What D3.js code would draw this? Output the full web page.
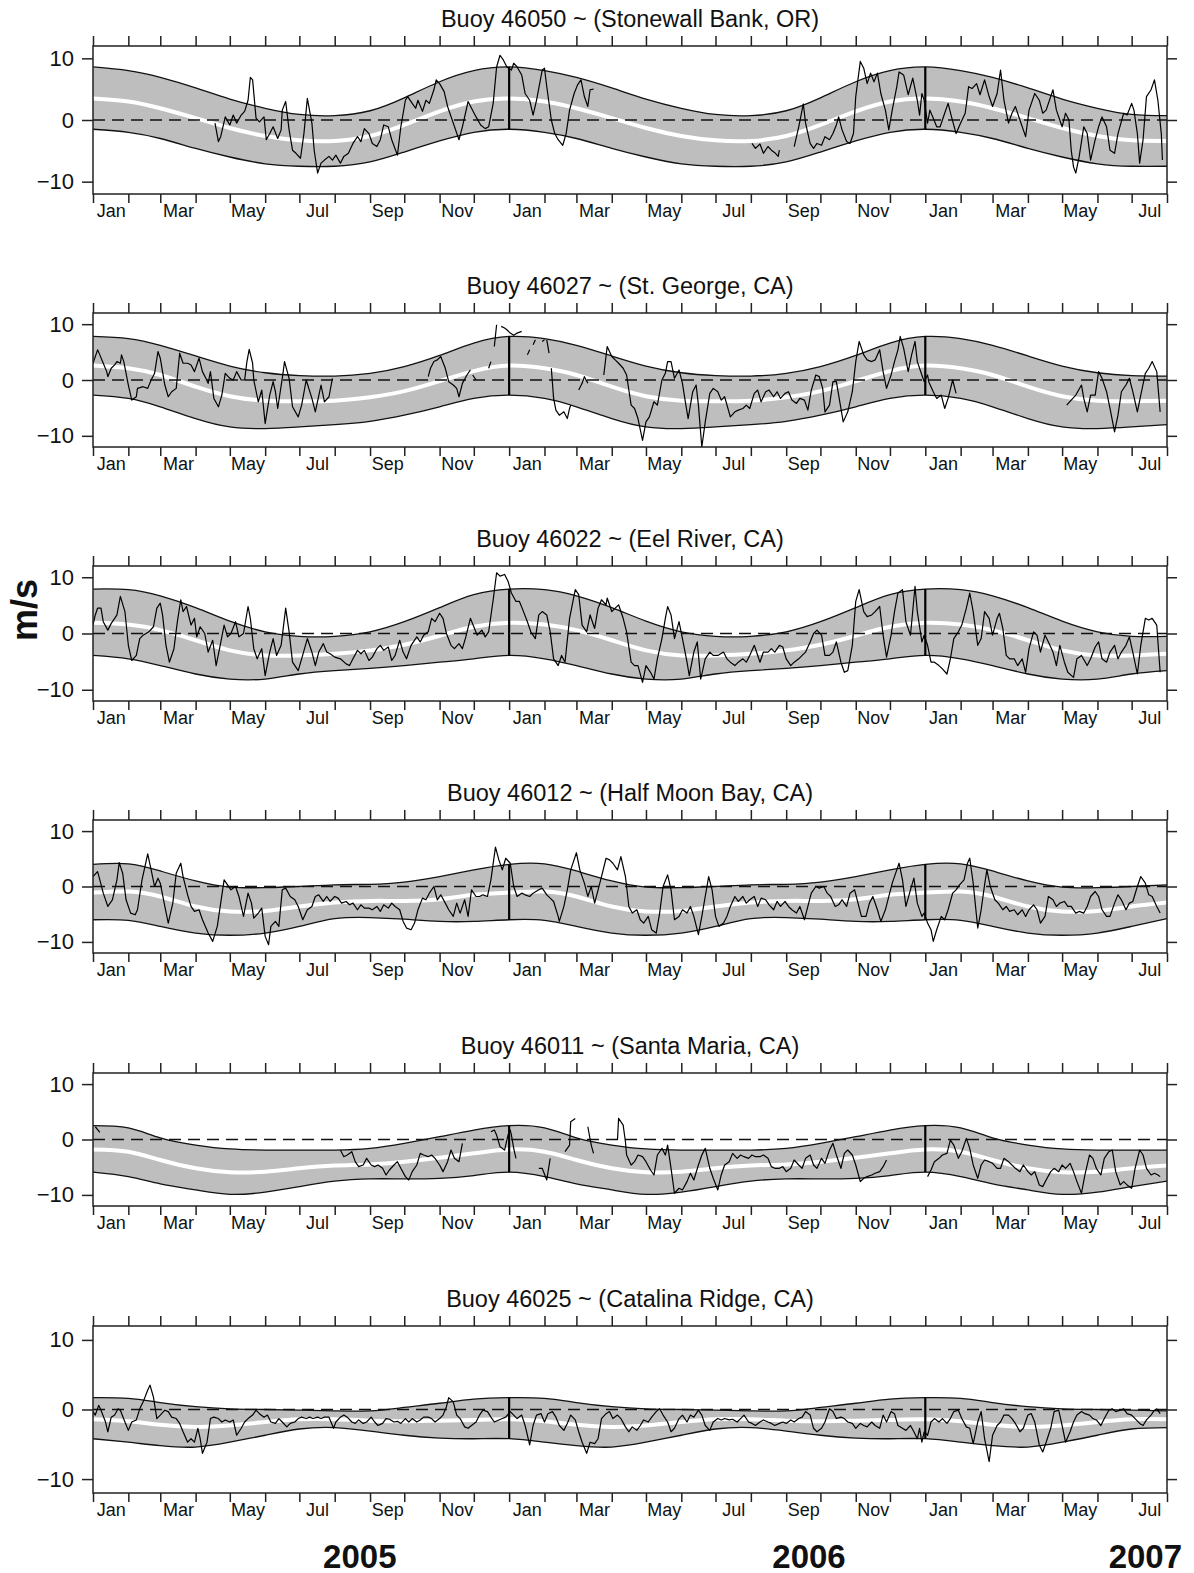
<!DOCTYPE html>
<html>
<head>
<meta charset="UTF-8">
<title>Buoy along-shore wind</title>
<script src="https://d3js.org/d3.v7.min.js"></script>
<style>
  body { margin: 0; background: #fff; }
  text { font-family: "Liberation Sans", Arial, Helvetica, sans-serif; fill: #111; }
</style>
</head>
<body>
<script>
// ---------- data ----------
// time span of every panel
const startDate = new Date(Date.UTC(2005, 0, 1));
const endDate = new Date(Date.UTC(2007, 7, 1));

const buoyIds = ["46050", "46027", "46022", "46012", "46011", "46025"];
const buoyPlaces = ["Stonewall Bank, OR", "St. George, CA", "Eel River, CA",
                    "Half Moon Bay, CA", "Santa Maria, CA", "Catalina Ridge, CA"];
const yTicks = [-10, 0, 10];
const yearLabels = ["2005", "2006", "2007"];

// seasonal cycle, value at the 1st of each month Jan..Dec (upper edge, mean, lower edge)
const upper46050 = [8.6, 8.0, 6.9, 5.2, 3.4, 1.9, 0.9, 0.7, 1.5, 3.6, 6.2, 8.0];
const mean46050  = [3.5, 3.0, 1.9, 0.3, -1.3, -2.6, -3.3, -3.4, -2.6, -0.8, 1.4, 3.0];
const lower46050 = [-1.5, -2.0, -3.0, -4.6, -6.0, -7.1, -7.5, -7.5, -6.8, -5.2, -3.4, -2.0];

const upper46027 = [7.8, 7.4, 6.2, 4.3, 2.5, 1.3, 0.8, 0.7, 1.2, 2.4, 4.4, 6.6];
const mean46027  = [2.6, 2.1, 0.9, -1.2, -2.9, -3.7, -3.8, -3.7, -3.1, -2.0, -0.2, 1.6];
const lower46027 = [-2.7, -3.3, -4.8, -6.9, -8.4, -8.7, -8.4, -8.0, -7.4, -6.3, -4.8, -3.3];

const upper46022 = [7.9, 7.8, 6.7, 4.6, 2.2, 0.3, -0.5, -0.5, 0.3, 2.1, 4.6, 6.9];
const mean46022  = [1.9, 1.6, 0.6, -1.2, -3.0, -3.9, -3.9, -3.6, -3.0, -2.0, -0.4, 1.2];
const lower46022 = [-3.9, -4.5, -5.7, -7.2, -8.1, -8.1, -7.2, -6.6, -6.2, -5.7, -5.1, -4.5];

const upper46012 = [4.0, 4.1, 2.8, 1.0, -0.1, -0.2, 0.0, 0.3, 0.4, 0.8, 1.8, 3.0];
const mean46012  = [-1.1, -0.9, -1.8, -3.6, -4.5, -4.4, -3.6, -2.9, -2.6, -2.6, -2.3, -1.5];
const lower46012 = [-6.0, -6.1, -7.2, -8.4, -8.8, -8.4, -7.2, -5.8, -5.6, -5.9, -6.3, -6.3];

const upper46011 = [2.5, 2.1, 0.3, -1.0, -1.7, -1.9, -1.9, -1.9, -1.6, -0.7, 0.5, 1.7];
const mean46011  = [-1.8, -2.2, -3.7, -5.2, -5.9, -5.8, -5.2, -4.7, -4.5, -4.0, -3.3, -2.5];
const lower46011 = [-5.9, -6.7, -8.0, -9.1, -9.9, -9.5, -8.5, -7.5, -7.1, -7.1, -7.0, -6.5];

const upper46025 = [1.7, 1.6, 1.0, 0.4, 0.1, 0.0, -0.1, -0.2, -0.2, 0.3, 0.9, 1.5];
const mean46025  = [-1.4, -1.7, -2.2, -2.5, -2.3, -1.8, -1.4, -1.4, -1.6, -1.7, -1.6, -1.5];
const lower46025 = [-4.2, -4.7, -5.2, -5.4, -4.7, -3.7, -2.8, -2.6, -3.1, -3.7, -4.1, -4.2];

// observed wind, [day since 1 Jan 2005, m/s]; null marks a data gap
const wind46050 = [[107,-0.5],[110,-3.5],[112,-2.7],[116,0.5],[120,-0.8],[123,0.8],[126,-0.5],[130,0.8],[133,1.4],[136,3.2],[138,6.9],[140,6.5],[143,0.3],[146,-0.3],[150,0.5],[152,-3.2],[155,-2.2],[158,-1.1],[162,-3.0],[165,-1.6],[166,1.6],[169,3.0],[172,-1.6],[175,-4.9],[178,-5.4],[182,-6.2],[185,-2.2],[188,3.5],[192,-0.5],[194,-4.9],[197,-8.6],[200,-7.0],[203,-6.5],[207,-5.9],[210,-6.5],[213,-5.7],[217,-7.0],[220,-5.9],[224,-5.4],[228,-3.8],[232,-2.7],[235,-3.5],[238,-1.4],[242,-2.2],[245,-3.8],[249,-4.3],[252,-3.2],[255,-0.8],[259,-1.1],[262,-3.2],[267,-5.7],[270,-1.1],[274,3.2],[276,3.8],[280,2.7],[283,1.9],[285,3.2],[289,1.4],[292,3.2],[295,2.7],[299,4.9],[301,6.5],[304,5.9],[308,4.6],[311,2.2],[316,-0.5],[321,-3.2],[324,-1.1],[329,3.0],[332,1.9],[336,0.5],[340,-0.8],[344,-1.4],[347,-1.1],[351,2.7],[354,8.6],[357,10.5],[360,9.7],[363,8.6],[367,8.1],[369,9.2],[372,8.6],[376,7.3],[379,4.3],[383,3.2],[386,0.8],[389,3.2],[394,8.1],[396,8.4],[398,5.4],[402,0.0],[405,-2.2],[408,-3.2],[412,-4.1],[415,-2.2],[418,1.6],[422,4.3],[425,5.7],[428,6.5],[431,3.8],[434,2.2],[436,4.9],[439,5.0],[440,null],
  [578,-3.8],[581,-4.6],[585,-3.9],[588,-5.4],[592,-4.3],[595,-4.9],[598,-5.3],[601,-5.9],[602,-4.9],[603,null],
  [615,-4.3],[619,-1.1],[623,2.6],[625,-0.5],[629,-3.8],[632,-4.6],[635,-3.8],[639,-4.1],[642,-2.7],[646,-3.2],[649,-2.2],[652,-0.8],[654,0.5],[657,-1.6],[661,-3.5],[664,-3.8],[667,-2.2],[669,3.8],[673,9.5],[676,8.4],[679,5.9],[682,7.6],[685,6.2],[688,7.6],[691,4.3],[695,1.6],[698,-1.6],[701,1.6],[705,5.4],[707,7.8],[711,7.3],[715,4.1],[719,6.8],[723,3.2],[725,0.8],[727,4.3],[729,3.2],[732,-0.5],[734,1.6],[737,0.3],[740,-1.1],[743,-1.1],[747,1.1],[750,2.7],[753,0.5],[757,-2.2],[761,-0.5],[765,1.1],[768,5.4],[771,5.1],[775,5.9],[778,4.1],[782,6.5],[786,3.8],[789,2.2],[793,4.3],[796,8.1],[799,3.2],[803,-0.5],[806,1.1],[809,2.2],[813,0.0],[818,-2.7],[821,1.6],[826,4.3],[830,3.2],[833,1.1],[836,1.6],[842,4.9],[845,1.6],[850,-1.1],[853,1.1],[856,0.0],[858,-4.9],[860,-7.6],[862,-8.6],[865,-5.9],[869,-1.1],[872,-2.2],[875,-6.5],[879,-3.2],[882,-1.1],[885,0.5],[889,-1.1],[892,-4.9],[896,-5.4],[899,-2.2],[904,1.1],[907,0.8],[911,2.7],[913,1.6],[916,-2.2],[918,-7.0],[921,-3.2],[924,3.8],[928,4.9],[931,6.5],[934,3.2],[937,-2.2],[938,-6.5]];

const wind46027 = [[0,3.0],[4,5.4],[6,4.5],[9,3.0],[12,1.5],[13,0.6],[16,2.1],[19,2.7],[21,3.3],[24,3.0],[25,4.5],[27,3.3],[31,-0.9],[34,-3.6],[38,-3.0],[39,-1.5],[44,-1.2],[48,-1.5],[51,0.0],[54,1.2],[57,5.1],[59,3.9],[63,-0.9],[66,-3.0],[69,-2.1],[73,-1.5],[76,4.8],[79,3.0],[83,3.0],[86,2.7],[89,1.5],[93,3.9],[96,1.5],[99,0.3],[101,-0.6],[103,1.5],[106,-3.3],[110,-4.8],[113,-2.7],[116,1.2],[120,0.3],[123,0.0],[126,1.5],[130,0.0],[133,0.0],[135,3.3],[137,5.5],[140,3.0],[141,0.0],[145,-3.9],[148,-1.8],[151,-7.8],[155,-2.7],[158,-0.3],[160,-2.1],[162,-5.1],[166,0.3],[168,3.3],[172,0.3],[175,-4.8],[180,-6.6],[183,-4.5],[187,0.0],[192,-3.3],[195,-5.7],[200,-0.9],[203,-3.9],[207,-3.0],[210,0.3],[211,null],
  [294,0.6],[296,2.1],[299,3.3],[302,3.6],[305,4.2],[309,2.1],[312,-0.3],[316,-0.9],[319,-1.5],[321,-3.0],[324,-0.6],[328,0.9],[331,1.8],[332,null],[333,0.9],[336,0.0],[337,null],[347,2.1],[349,3.3],[350,null],[352,6.0],[354,9.9],[355,null],[358,9.6],[361,9.3],[363,9.0],[366,8.4],[369,8.0],[372,8.4],[376,8.7],[377,null],[381,4.5],[383,5.4],[384,null],[386,6.3],[388,7.2],[389,null],[394,6.9],[396,7.2],[397,null],[398,7.2],[400,4.8],[401,null],[402,2.1],[404,-3.3],[406,-5.4],[409,-6.3],[413,-5.7],[416,-6.9],[418,-5.1],[419,-4.5],[420,null],[426,-1.8],[429,-0.6],[431,0.6],[434,-0.6],[435,null],
  [448,0.9],[451,6.0],[455,4.2],[458,3.6],[461,3.0],[465,2.1],[468,0.9],[472,-4.5],[475,-5.1],[478,-6.9],[482,-10.8],[485,-7.5],[488,-6.6],[492,-3.9],[495,-4.5],[499,0.0],[502,1.2],[504,3.3],[507,3.3],[510,0.3],[514,1.8],[517,-0.6],[520,-4.5],[522,-6.9],[526,-2.1],[529,-0.9],[531,-4.5],[534,-12.0],[537,-7.5],[541,-2.4],[544,-1.5],[548,-2.1],[551,-3.6],[554,-3.0],[559,-6.6],[563,-5.7],[566,-5.4],[570,-5.1],[573,-4.5],[576,-5.1],[580,-2.4],[583,-1.8],[586,-3.9],[590,-2.1],[593,-1.8],[597,-3.0],[600,-2.1],[603,-3.3],[607,-2.4],[610,-2.1],[613,-3.6],[617,-4.2],[620,-3.3],[624,-3.6],[627,-5.4],[630,-1.8],[634,0.9],[637,0.6],[640,-1.5],[642,-5.7],[646,-4.5],[649,-0.3],[652,-0.3],[656,-5.1],[658,-7.5],[662,-5.7],[666,-2.1],[669,3.3],[672,6.9],[676,4.5],[679,3.6],[683,3.3],[686,3.6],[690,5.4],[693,1.5],[696,-1.5],[700,0.9],[703,3.3],[706,5.4],[708,7.8],[711,5.7],[715,1.5],[718,4.5],[721,6.9],[723,3.3],[727,0.9],[729,-0.3],[732,0.9],[733,-0.3],[737,-2.1],[740,-3.3],[744,-2.7],[747,-5.1],[750,-3.3],[754,0.0],[757,-2.4],[758,null],
  [854,-4.5],[858,-3.6],[862,-2.7],[867,-0.9],[869,-3.3],[872,-5.7],[875,-2.7],[879,-2.7],[882,1.5],[885,0.3],[889,-2.1],[892,-5.1],[896,-9.3],[899,-6.3],[902,-2.1],[906,-0.9],[909,0.3],[912,-2.1],[916,-5.7],[919,-2.7],[923,1.2],[926,2.1],[929,3.3],[933,1.5],[936,-5.7]];

const wind46022 = [[0,1.5],[2,3.3],[4,4.5],[7,4.5],[9,2.1],[13,0.6],[16,1.8],[19,2.7],[21,3.3],[24,6.6],[28,3.9],[31,-2.1],[34,-4.8],[38,-3.9],[41,-0.9],[44,-0.3],[49,0.3],[53,1.2],[56,4.5],[59,5.4],[61,3.3],[64,-2.1],[67,-5.1],[71,-2.7],[74,2.1],[77,6.0],[79,3.9],[82,4.8],[86,1.5],[89,2.7],[91,-0.6],[94,1.2],[98,0.0],[101,-3.3],[105,-1.2],[108,-5.7],[111,-2.7],[115,1.5],[118,-0.6],[121,0.0],[125,2.1],[128,-0.6],[132,0.0],[136,4.8],[138,2.7],[141,-2.7],[144,-4.5],[148,-2.7],[151,-7.5],[155,-3.3],[158,-0.9],[161,-3.9],[165,-2.1],[169,4.5],[172,0.3],[175,-5.1],[180,-6.6],[183,-4.5],[188,-0.9],[192,-3.3],[195,-5.7],[198,-3.3],[202,-1.8],[205,-3.3],[208,-3.6],[212,-4.2],[217,-4.5],[222,-5.4],[225,-5.7],[228,-4.5],[232,-3.0],[235,-3.6],[238,-3.0],[242,-4.8],[245,-4.2],[249,-2.7],[252,-2.1],[255,-3.0],[259,-2.4],[262,-4.8],[265,-3.9],[269,-1.2],[272,-3.3],[275,-4.5],[279,-2.1],[284,-0.6],[287,-1.5],[290,-0.3],[294,0.3],[297,2.7],[300,2.1],[304,3.6],[307,2.7],[310,0.0],[314,-2.1],[317,-2.7],[321,-1.8],[324,-2.7],[327,-0.6],[331,2.7],[334,1.2],[337,-0.3],[341,0.6],[344,-0.6],[347,0.3],[351,6.0],[354,10.8],[357,10.2],[361,10.5],[364,9.3],[367,7.2],[371,5.7],[374,5.7],[377,4.2],[381,2.1],[384,0.3],[388,-0.9],[391,3.3],[394,3.9],[398,3.3],[401,0.3],[404,-4.5],[408,-5.7],[411,-3.9],[414,-5.1],[418,2.7],[423,7.8],[426,6.9],[429,1.5],[433,0.3],[436,3.3],[440,0.9],[443,4.5],[446,6.0],[450,5.1],[451,6.3],[455,3.9],[458,4.5],[461,5.1],[465,2.7],[468,0.3],[472,-5.1],[475,-5.7],[478,-5.7],[482,-8.7],[485,-5.7],[489,-6.9],[492,-8.1],[495,-4.5],[499,-0.9],[502,2.7],[504,4.8],[507,3.3],[510,-0.9],[514,2.1],[517,-0.9],[521,-5.1],[523,-7.5],[527,-3.3],[530,-1.5],[533,-8.1],[537,-4.5],[541,-3.3],[544,-3.9],[548,-3.9],[553,-3.3],[556,-4.5],[559,-5.1],[563,-5.7],[566,-5.1],[570,-4.5],[573,-5.1],[576,-3.9],[580,-2.1],[585,-5.1],[588,-3.3],[592,-3.3],[595,-2.7],[598,-3.3],[602,-2.1],[605,-2.4],[608,-4.5],[612,-5.7],[615,-5.1],[619,-4.5],[622,-3.9],[625,-3.3],[629,-1.5],[632,0.0],[635,0.6],[639,-0.3],[642,-3.9],[646,-3.9],[649,-3.3],[652,-1.5],[656,-5.1],[659,-6.9],[662,-6.6],[666,-2.1],[669,5.7],[672,7.8],[676,3.9],[679,3.0],[683,3.3],[686,3.9],[690,4.8],[693,-0.3],[696,-4.2],[700,-0.3],[703,3.9],[706,7.2],[710,7.8],[713,2.1],[717,-0.3],[721,8.4],[723,3.9],[727,-1.5],[729,-0.3],[732,-2.1],[735,-5.1],[738,-5.1],[742,-5.7],[745,-6.3],[749,-7.2],[752,-4.5],[755,-0.9],[759,0.3],[762,1.5],[766,4.5],[769,7.2],[772,3.9],[776,-2.1],[779,-0.9],[782,3.9],[786,2.7],[789,-0.3],[793,2.7],[795,3.6],[798,0.9],[801,-3.9],[804,-4.5],[808,-4.5],[811,-5.7],[815,-4.5],[818,-6.9],[821,-2.7],[825,0.3],[828,-0.3],[831,-3.3],[835,-0.3],[838,-1.5],[842,-3.3],[845,-5.7],[848,-2.1],[852,-5.1],[855,-6.9],[860,-7.8],[863,-4.5],[867,-3.9],[872,-5.7],[875,-4.5],[879,-2.4],[882,-1.5],[885,-4.5],[889,-5.1],[892,-3.3],[896,-2.1],[899,-4.5],[902,-3.3],[906,-2.1],[909,-0.6],[912,-3.3],[916,-7.2],[919,-2.1],[923,2.7],[926,2.4],[929,2.7],[933,1.5],[936,-6.9]];

const wind46012 = [[0,1.8],[4,2.7],[6,1.2],[9,-1.2],[13,-3.6],[17,-2.4],[21,1.2],[23,4.3],[26,2.4],[29,-2.4],[33,-4.8],[37,-5.1],[39,-4.2],[43,1.2],[48,5.9],[51,3.0],[54,0.0],[57,1.5],[59,0.6],[63,-3.6],[66,-6.6],[70,-3.0],[73,2.4],[77,4.2],[79,1.8],[83,-1.5],[86,-3.6],[89,-4.5],[93,-4.2],[96,-6.0],[101,-8.4],[105,-9.9],[109,-7.2],[112,-3.0],[115,1.2],[118,0.3],[121,-0.6],[125,0.0],[128,-1.8],[132,-5.4],[136,-1.2],[139,-3.0],[141,-5.7],[145,-4.8],[148,-3.9],[151,-9.0],[154,-10.5],[156,-7.2],[160,-6.3],[163,-7.2],[166,-0.6],[169,-0.3],[173,-1.8],[177,-2.4],[180,-3.6],[184,-6.0],[188,-4.2],[192,-3.6],[195,-1.8],[198,-1.5],[202,-2.7],[205,-1.8],[208,-2.7],[212,-1.8],[215,-2.1],[218,-3.0],[222,-2.7],[225,-3.3],[228,-3.0],[232,-4.2],[235,-3.3],[238,-3.9],[242,-3.9],[245,-4.2],[249,-3.6],[252,-4.5],[255,-3.3],[259,-3.9],[262,-3.0],[265,-3.6],[269,-4.2],[272,-6.3],[275,-7.5],[279,-7.8],[282,-6.6],[285,-4.2],[289,-2.1],[292,-2.4],[295,-1.2],[299,0.0],[302,-2.4],[305,-1.5],[309,-3.0],[312,-4.2],[316,-5.4],[319,-3.0],[322,-4.8],[326,-2.4],[329,-5.4],[332,-0.6],[336,-1.8],[339,-1.8],[342,-1.5],[346,-1.8],[349,1.2],[353,7.1],[356,4.8],[359,3.0],[362,5.1],[366,4.2],[369,0.0],[372,-1.8],[376,-1.2],[379,-1.5],[383,-1.8],[386,-1.2],[391,-0.6],[394,-0.3],[398,-1.5],[401,-2.1],[404,-2.7],[408,-5.4],[409,-6.3],[413,-3.6],[416,-0.6],[419,3.0],[424,6.1],[427,3.0],[431,0.6],[434,-1.8],[437,0.0],[440,-3.0],[443,-0.6],[446,1.8],[450,5.1],[453,4.8],[456,4.2],[460,3.0],[463,5.4],[467,1.8],[470,-3.6],[473,-4.8],[477,-4.2],[480,-6.0],[483,-6.6],[487,-5.4],[490,-7.8],[494,-8.4],[497,-4.8],[500,0.0],[504,2.1],[507,-0.6],[510,-6.0],[514,-5.4],[517,-4.2],[521,-4.8],[524,-3.6],[527,-5.4],[531,-8.7],[534,-5.4],[537,-1.8],[540,1.8],[543,-0.6],[546,-5.4],[549,-7.2],[553,-6.6],[556,-5.4],[559,-3.6],[563,-1.8],[566,-2.7],[570,-1.8],[573,-3.0],[576,-2.4],[580,-1.8],[583,-3.6],[586,-2.1],[590,-2.4],[593,-3.3],[597,-4.2],[600,-2.7],[603,-3.6],[607,-2.7],[610,-3.6],[613,-4.2],[617,-4.8],[620,-3.6],[624,-6.0],[627,-3.6],[630,-1.2],[634,0.0],[637,-0.3],[641,0.0],[644,-1.2],[647,-1.8],[651,-3.6],[654,-3.3],[657,-2.4],[661,-3.6],[664,-1.2],[668,-0.6],[671,-3.0],[674,-5.4],[678,-5.4],[681,-3.0],[684,-1.8],[688,-4.2],[691,-6.3],[695,-4.2],[698,-1.8],[701,0.6],[705,3.0],[707,4.2],[710,1.2],[713,-3.6],[717,-0.6],[720,1.5],[723,-3.0],[727,-5.4],[729,-4.8],[732,-6.6],[735,-7.8],[737,-9.9],[740,-7.8],[744,-5.4],[747,-6.0],[750,-4.2],[754,-1.2],[757,-0.6],[760,0.3],[764,1.2],[767,4.2],[769,5.1],[772,0.6],[776,-7.5],[779,-4.2],[782,0.3],[784,3.0],[787,0.0],[791,-2.4],[794,-3.0],[798,-4.2],[801,-3.6],[804,-4.5],[808,-4.2],[811,-5.1],[815,-4.2],[818,-5.4],[821,-4.2],[825,-3.3],[828,-4.2],[831,-6.6],[835,-5.4],[838,-1.8],[842,-2.4],[845,-3.6],[848,-3.0],[852,-2.7],[855,-3.6],[858,-3.6],[862,-4.8],[865,-4.5],[869,-4.8],[872,-3.6],[875,-1.8],[879,-0.9],[882,-1.8],[885,-4.2],[889,-5.4],[892,-5.4],[896,-3.0],[899,-1.5],[902,-2.4],[906,-4.2],[909,-3.0],[912,-2.7],[916,0.0],[919,1.8],[923,0.6],[926,-1.5],[929,-1.8],[933,-3.6],[936,-4.8]];

const wind46011 = [[2,2.3],[6,1.3],[7,null],
  [217,-1.9],[220,-3.1],[223,-2.8],[227,-2.2],[230,-4.0],[233,-4.9],[237,-4.6],[240,-3.4],[244,-4.6],[247,-4.9],[250,-4.6],[254,-5.2],[257,-6.4],[260,-5.5],[264,-4.6],[267,-4.0],[270,-5.2],[274,-6.7],[277,-7.3],[280,-5.8],[284,-4.6],[287,-2.5],[290,-2.8],[294,-3.1],[297,-2.8],[300,-3.4],[304,-4.6],[307,-5.8],[311,-4.0],[314,-1.9],[317,-3.4],[321,-4.0],[324,-0.7],[325,null],
  [349,1.4],[352,1.7],[354,0.8],[357,-1.3],[361,-1.9],[364,0.8],[366,1.7],[367,0.8],[369,-1.6],[371,-3.4],[372,null],
  [391,-5.2],[394,-5.2],[398,-7.3],[401,-3.4],[402,null],
  [414,-2.2],[418,-1.0],[419,3.2],[423,3.8],[424,null],
  [434,2.3],[437,-1.0],[439,-2.5],[440,null],
  [460,-0.1],[461,3.8],[465,2.6],[467,-0.4],[468,-2.8],[472,-4.6],[475,-4.0],[478,-2.8],[482,-3.1],[485,-4.0],[489,-5.5],[492,-6.4],[495,-2.8],[499,-1.6],[502,-2.8],[504,-1.0],[507,-5.2],[510,-9.7],[514,-8.8],[517,-9.1],[521,-7.6],[524,-6.1],[527,-7.3],[531,-4.6],[534,-2.8],[537,-1.6],[541,-5.2],[544,-7.0],[548,-9.1],[551,-6.4],[554,-4.6],[558,-4.0],[561,-2.5],[565,-3.4],[568,-2.8],[571,-3.1],[575,-3.4],[578,-2.8],[581,-3.1],[585,-3.1],[588,-2.8],[592,-3.4],[595,-4.9],[598,-5.2],[602,-5.2],[605,-4.9],[608,-5.8],[612,-5.2],[615,-3.7],[619,-4.6],[622,-5.2],[625,-3.4],[629,-2.8],[632,-4.6],[635,-5.2],[639,-3.4],[642,-4.3],[646,-1.9],[649,-0.7],[652,-2.8],[656,-5.2],[659,-2.5],[662,-1.9],[666,-2.8],[669,-4.6],[673,-7.6],[676,-7.0],[679,-6.7],[683,-6.4],[686,-6.1],[690,-5.8],[693,-4.9],[696,-3.7],[697,null],
  [732,-6.7],[735,-5.5],[738,-4.0],[742,-3.4],[745,-2.8],[749,-2.5],[752,-0.1],[755,-1.0],[759,-3.4],[762,-2.2],[766,0.2],[769,-1.6],[772,-4.6],[776,-7.0],[779,-4.6],[782,-3.7],[786,-4.0],[789,-4.3],[793,-5.2],[796,-5.2],[799,-3.4],[803,-4.0],[806,-4.6],[809,-5.2],[813,-5.8],[816,-4.6],[820,-5.8],[823,-6.4],[826,-5.8],[830,-8.2],[833,-8.5],[836,-7.3],[840,-5.8],[843,-5.2],[847,-5.8],[850,-4.6],[853,-5.2],[857,-4.3],[860,-5.8],[863,-7.6],[867,-9.7],[870,-6.4],[874,-2.8],[877,-3.4],[880,-5.2],[884,-6.4],[887,-3.4],[891,-2.2],[894,-1.9],[897,-5.8],[901,-8.2],[904,-7.6],[907,-8.2],[911,-8.8],[914,-5.2],[918,-1.9],[921,-2.8],[924,-5.2],[928,-6.4],[931,-6.1],[934,-6.4],[936,-6.7]];

const wind46025 = [[0,-0.3],[2,-0.8],[5,0.6],[7,-0.1],[11,-1.8],[13,-3.2],[16,-1.1],[19,-0.8],[22,0.1],[24,-0.1],[28,-1.8],[31,-3.0],[34,-1.8],[38,-1.5],[41,0.1],[44,1.1],[48,2.8],[50,3.5],[53,1.8],[56,-1.3],[59,-0.8],[63,-0.1],[66,-0.3],[69,-1.1],[73,-1.3],[76,-2.0],[79,-3.2],[83,-4.7],[86,-4.2],[89,-4.7],[92,-2.7],[94,-4.2],[96,-6.3],[100,-4.7],[103,-1.3],[106,-1.1],[110,-1.3],[113,-1.8],[116,-1.5],[120,-1.8],[123,-1.5],[126,-3.7],[130,-2.7],[133,-1.8],[136,-1.3],[140,-0.8],[143,-0.1],[146,-0.6],[150,-1.1],[153,-0.8],[156,-1.8],[160,-2.0],[163,-1.3],[166,-1.8],[170,-2.5],[173,-2.0],[177,-1.8],[180,-1.3],[183,-1.1],[187,-1.3],[190,-1.1],[193,-1.3],[197,-1.1],[200,-1.3],[203,-1.1],[207,-1.1],[211,-2.7],[213,-1.8],[217,-1.1],[220,-0.8],[223,-1.1],[227,-1.8],[230,-2.0],[233,-1.5],[237,-2.0],[240,-1.8],[244,-1.1],[247,-1.8],[250,-2.3],[254,-2.0],[257,-1.3],[260,-1.4],[264,-1.8],[267,-1.7],[270,-2.0],[274,-1.3],[277,-1.8],[280,-1.3],[284,-1.8],[287,-1.5],[290,-1.1],[294,-1.1],[297,-1.3],[300,-1.8],[304,-1.3],[307,-0.8],[310,0.4],[312,1.7],[316,1.1],[319,-0.8],[322,-1.3],[326,-2.5],[329,-2.7],[332,-2.3],[336,-1.8],[339,-0.8],[342,-0.1],[346,-0.3],[349,-1.1],[352,-1.8],[356,-1.5],[359,-1.3],[362,-1.1],[366,-0.3],[369,-0.8],[372,-1.3],[376,-0.8],[379,-2.3],[383,-5.1],[386,-2.3],[389,-0.8],[393,-0.6],[396,-1.8],[399,-0.6],[403,-0.3],[406,-1.1],[409,-2.3],[413,-3.0],[416,-2.0],[419,-0.8],[423,-1.5],[426,-3.2],[429,-4.7],[433,-6.3],[436,-4.7],[440,-4.9],[443,-4.2],[446,-1.3],[450,-0.6],[453,-0.3],[456,-1.3],[460,-0.8],[463,-1.3],[467,-2.5],[470,-3.2],[473,-2.5],[477,-3.0],[480,-2.3],[483,-1.5],[487,-1.8],[490,-1.1],[494,-0.3],[497,0.1],[500,-0.8],[504,-1.8],[507,-3.2],[510,-2.7],[514,-1.3],[517,-0.8],[521,-1.8],[524,-0.8],[527,-1.1],[531,-0.1],[534,-0.8],[537,-2.3],[541,-3.0],[544,-1.8],[548,-1.3],[551,-1.5],[554,-1.3],[558,-1.5],[561,-1.4],[565,-1.8],[568,-1.3],[571,-0.8],[575,-1.8],[578,-2.0],[581,-2.3],[585,-1.8],[588,-1.5],[592,-1.8],[595,-2.0],[598,-2.3],[602,-2.0],[605,-1.8],[608,-2.0],[612,-1.5],[615,-1.8],[619,-1.3],[622,-1.1],[625,-0.3],[629,-0.8],[632,-2.7],[635,-3.2],[639,-2.7],[642,-1.8],[646,0.1],[649,-0.3],[652,-1.3],[656,-1.1],[659,-1.3],[662,-1.8],[666,-2.0],[669,-2.7],[673,-2.0],[676,-2.3],[679,-2.5],[683,-1.8],[686,-2.3],[690,-2.7],[693,-0.8],[696,-1.8],[700,-0.3],[703,-0.6],[706,-2.3],[710,-2.7],[713,-3.0],[717,-2.3],[720,-3.2],[723,-4.2],[725,-2.7],[727,-4.7],[729,-3.2],[732,-3.7],[735,-1.8],[738,-1.3],[742,-1.8],[745,-1.3],[749,-2.0],[752,-1.3],[755,-0.3],[759,-0.1],[762,-1.3],[766,-2.5],[769,-2.7],[772,-4.9],[776,-1.8],[779,-0.3],[782,-4.2],[786,-7.5],[789,-3.7],[793,-2.3],[796,-1.8],[799,-0.8],[803,-0.8],[806,-1.3],[809,-2.0],[813,-3.2],[816,-2.7],[820,-0.8],[823,-0.6],[826,-1.8],[830,-5.1],[833,-6.1],[836,-4.7],[840,-2.7],[843,-0.3],[847,-0.1],[850,-2.3],[853,-4.7],[857,-3.2],[860,-1.8],[863,-0.8],[867,-0.3],[870,-0.6],[874,-0.8],[877,-1.3],[880,-1.5],[884,-2.3],[887,-1.3],[891,-0.1],[894,0.1],[897,-0.3],[901,-0.1],[904,0.1],[907,-0.6],[911,-0.8],[914,-1.3],[918,-2.0],[921,-2.3],[924,-1.5],[928,-0.8],[931,-0.1],[933,0.1],[936,-0.6]];

// ---------- layout ----------
const W = 1194, H = 1573;
const plotLeft = 93, plotRight = 1167;
const panelTop = [46, 313, 566, 820, 1073, 1326];
const panelBottom = [194, 447, 701, 953, 1206, 1493];
const yearLabelDates = [new Date(Date.UTC(2005, 7, 23)), new Date(Date.UTC(2006, 8, 21)), new Date(Date.UTC(2007, 6, 13))];

const panels = buoyIds.map((id, i) => ({
  title: "Buoy " + id + " ~ (" + buoyPlaces[i] + ")",
  series: [wind46050, wind46027, wind46022, wind46012, wind46011, wind46025][i],
  upper: [upper46050, upper46027, upper46022, upper46012, upper46011, upper46025][i],
  mean: [mean46050, mean46027, mean46022, mean46012, mean46011, mean46025][i],
  lower: [lower46050, lower46027, lower46022, lower46012, lower46011, lower46025][i]
}));

const svg = d3.select("body").append("svg")
  .attr("width", W).attr("height", H)
  .attr("viewBox", `0 0 ${W} ${H}`);

const x = d3.scaleUtc().domain([startDate, endDate]).range([plotLeft, plotRight]);
const dayToDate = d => new Date(startDate.getTime() + d * 864e5);

const monthStarts = d3.utcMonth.range(startDate, d3.utcMonth.offset(endDate, 1));
// month labels sit in the middle of every other month
const labelDates = monthStarts
  .filter(m => m < endDate && m.getUTCMonth() % 2 === 0)
  .map(m => new Date((m.getTime() + d3.utcMonth.offset(m, 1).getTime()) / 2));
const yearStarts = [new Date(Date.UTC(2006, 0, 1)), new Date(Date.UTC(2007, 0, 1))];

const frameColor = "#222";

panels.forEach((p, i) => {
  const top = panelTop[i], bottom = panelBottom[i];
  const y = d3.scaleLinear().domain([-12, 12]).range([bottom, top]);
  const g = svg.append("g");

  svg.append("clipPath").attr("id", "clip" + i)
    .append("rect").attr("x", plotLeft).attr("y", top)
    .attr("width", plotRight - plotLeft).attr("height", bottom - top);
  const plot = g.append("g").attr("clip-path", `url(#clip${i})`);

  // seasonal band, repeated for each year
  const bandPts = monthStarts.map(m => ({
    date: m,
    up: p.upper[m.getUTCMonth()],
    mid: p.mean[m.getUTCMonth()],
    lo: p.lower[m.getUTCMonth()]
  }));
  plot.append("path").datum(bandPts)
    .attr("d", d3.area().x(d => x(d.date)).y0(d => y(d.lo)).y1(d => y(d.up)).curve(d3.curveNatural))
    .attr("fill", "#bebebe");
  ["up", "lo"].forEach(k => {
    plot.append("path").datum(bandPts)
      .attr("d", d3.line().x(d => x(d.date)).y(d => y(d[k])).curve(d3.curveNatural))
      .attr("fill", "none").attr("stroke", "#111").attr("stroke-width", 1.3);
  });
  plot.append("path").datum(bandPts)
    .attr("d", d3.line().x(d => x(d.date)).y(d => y(d.mid)).curve(d3.curveNatural))
    .attr("fill", "none").attr("stroke", "#fff").attr("stroke-width", 4);

  // zero line
  plot.append("line")
    .attr("x1", x(startDate)).attr("x2", x(endDate))
    .attr("y1", y(0)).attr("y2", y(0))
    .attr("stroke", "#111").attr("stroke-width", 1.3)
    .attr("stroke-dasharray", "12,7");

  // observed series
  const pts = p.series.map(d => ({ date: dayToDate(d[0]), v: d[1] }));
  plot.append("path").datum(pts)
    .attr("d", d3.line().defined(d => d.v !== null).x(d => x(d.date)).y(d => y(d.v)))
    .attr("fill", "none").attr("stroke", "#000").attr("stroke-width", 1.2)
    .attr("stroke-linejoin", "round");

  // year boundaries across the band
  plot.selectAll("line.year").data(yearStarts).enter().append("line")
    .attr("class", "year")
    .attr("x1", d => x(d)).attr("x2", d => x(d))
    .attr("y1", y(p.lower[0])).attr("y2", y(p.upper[0]))
    .attr("stroke", "#000").attr("stroke-width", 2.2);

  // frame
  g.append("rect")
    .attr("x", plotLeft).attr("y", top)
    .attr("width", plotRight - plotLeft).attr("height", bottom - top)
    .attr("fill", "none").attr("stroke", frameColor).attr("stroke-width", 1.5);

  // axes
  const topAxis = g.append("g").attr("transform", `translate(0,${top})`)
    .call(d3.axisTop(x).tickValues(monthStarts).tickSize(10).tickFormat(""));
  const botAxis = g.append("g").attr("transform", `translate(0,${bottom})`)
    .call(d3.axisBottom(x).tickValues(monthStarts).tickSize(9).tickFormat(""));
  const monthAxis = g.append("g").attr("transform", `translate(0,${bottom})`)
    .call(d3.axisBottom(x).tickValues(labelDates).tickSize(0).tickPadding(10)
      .tickFormat(d3.utcFormat("%b")));
  const leftAxis = g.append("g").attr("transform", `translate(${plotLeft},0)`)
    .call(d3.axisLeft(y).tickValues(yTicks).tickSize(11).tickPadding(8).tickFormat(d3.format("d")));
  const rightAxis = g.append("g").attr("transform", `translate(${plotRight},0)`)
    .call(d3.axisRight(y).tickValues(yTicks).tickSize(10).tickFormat(""));

  [topAxis, botAxis, monthAxis, leftAxis, rightAxis].forEach(a => {
    a.select(".domain").remove();
    a.selectAll("line").attr("stroke", frameColor).attr("stroke-width", 1.5);
    a.attr("font-family", null).attr("font-size", null);
  });
  monthAxis.selectAll("text").attr("font-size", 18);
  leftAxis.selectAll("text").attr("font-size", 22);

  // panel title
  g.append("text")
    .attr("x", (plotLeft + plotRight) / 2).attr("y", top - 27)
    .attr("text-anchor", "middle").attr("dominant-baseline", "central")
    .attr("font-size", 23.5)
    .text(p.title);
});

// y axis title
svg.append("text")
  .attr("transform", "translate(24,610) rotate(-90)")
  .attr("text-anchor", "middle").attr("dominant-baseline", "central")
  .attr("font-size", 36).attr("font-weight", "bold")
  .text("m/s");

// year labels
svg.selectAll("text.year").data(yearLabels).enter().append("text")
  .attr("class", "year")
  .attr("x", (d, i) => x(yearLabelDates[i]))
  .attr("y", 1556)
  .attr("text-anchor", "middle").attr("dominant-baseline", "central")
  .attr("font-size", 33).attr("font-weight", "bold")
  .text(d => d);
</script>
</body>
</html>
